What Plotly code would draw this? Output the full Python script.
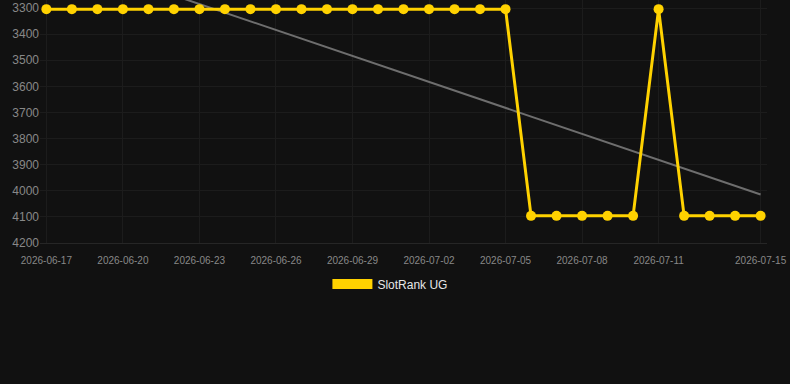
import numpy as np
import pandas as pd
import plotly.graph_objects as go

dates = pd.date_range("2026-06-17", "2026-07-15", freq="D")
ranks = [3304] * 19 + [4096] * 5 + [3304] + [4096] * 4
series_name = "SlotRank UG"
tick_dates = list(dates[::3][:-1]) + [dates[-1]]

x_num = np.arange(len(dates))
slope, intercept = np.polyfit(x_num, ranks, 1)
trend = slope * x_num + intercept

YELLOW = "#ffd200"
BG = "#111111"
GRID = "#1c1c1c"

fig = go.Figure()
fig.add_trace(go.Scatter(
    x=dates, y=trend, mode="lines",
    line=dict(color="#6e6e6e", width=2),
    showlegend=False, hoverinfo="skip"))
fig.add_trace(go.Scatter(
    x=dates, y=ranks, mode="lines+markers",
    line=dict(color=YELLOW, width=3),
    marker=dict(color=YELLOW, size=10),
    showlegend=False, name=series_name))
# legend proxy (rectangular swatch)
fig.add_trace(go.Scatter(
    x=[None], y=[None], mode="lines",
    line=dict(color=YELLOW, width=11),
    name=series_name, showlegend=True))

fig.update_layout(
    width=790, height=384,
    paper_bgcolor=BG, plot_bgcolor=BG,
    margin=dict(l=40, r=23, t=0, b=141),
    font=dict(family="Liberation Sans, Arial, sans-serif", color="#888888"),
    legend=dict(orientation="h", x=0.482, xanchor="center",
                yref="container", y=1 - 284 / 384, yanchor="middle",
                font=dict(size=12, color="#e6e6e6"),
                itemwidth=40),
)
fig.update_xaxes(
    range=[pd.Timestamp("2026-06-16 18:00"), pd.Timestamp("2026-07-15 06:00")],
    tickmode="array", tickvals=tick_dates,
    ticktext=[d.strftime("%Y-%m-%d") for d in tick_dates],
    ticks="outside", ticklen=8, tickcolor=BG,
    showgrid=True, gridcolor=GRID, zeroline=False,
    showline=True, linecolor="#262626",
    tickfont=dict(size=10, color="#888888"))
fig.update_yaxes(
    range=[4200, 3269], tick0=3300, dtick=100,
    showgrid=True, gridcolor=GRID, zeroline=False,
    tickfont=dict(size=12, color="#888888"))

fig.write_html("out.html")
